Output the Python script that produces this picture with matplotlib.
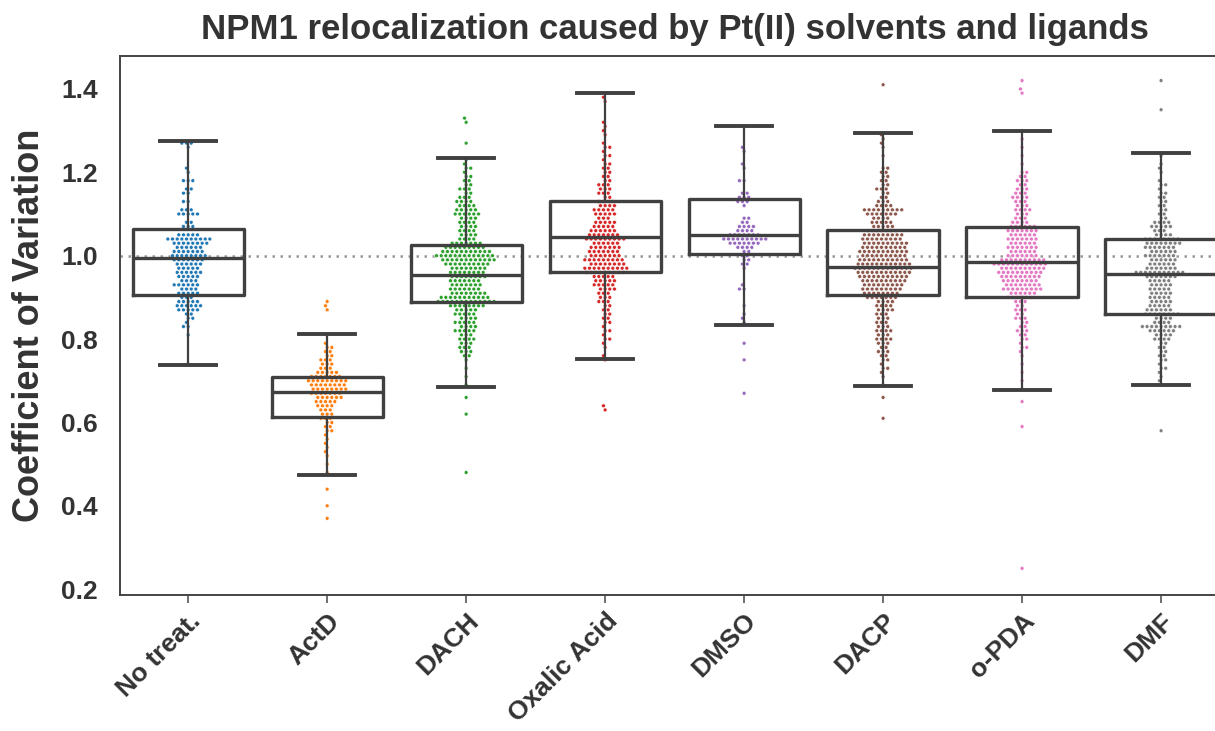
import numpy as np
import pandas as pd
import matplotlib
matplotlib.use("Agg")
import matplotlib.pyplot as plt
import seaborn as sns

groups = ["No treat.", "ActD", "DACH", "Oxalic Acid", "DMSO", "DACP", "o-PDA", "DMF"]
colors = ["#1f77b4", "#ff7f0e", "#2ca02c", "#d62728", "#9467bd", "#8c564b", "#e377c2", "#7f7f7f"]

# box stats
q1 = [0.906, 0.614, 0.888, 0.962, 1.005, 0.906, 0.900, 0.860]
med = [0.995, 0.674, 0.953, 1.044, 1.049, 0.974, 0.984, 0.957]
q3 = [1.064, 0.709, 1.025, 1.131, 1.136, 1.061, 1.069, 1.040]
whislo = [0.737, 0.475, 0.684, 0.751, 0.833, 0.688, 0.679, 0.690]
whishi = [1.274, 0.811, 1.235, 1.390, 1.311, 1.295, 1.300, 1.247]

# swarm points: value levels and how many points sit at each level
notreat_lv = [1.27, 1.26, 1.21, 1.20, 1.18, 1.16, 1.15, 1.13, 1.11, 1.10, 1.08, 1.07, 1.05, 1.04, 1.03,
              1.02, 1.01, 1.00, 0.99, 0.98, 0.97, 0.96, 0.95, 0.94, 0.93, 0.92, 0.91, 0.90, 0.89, 0.88,
              0.87, 0.86, 0.85, 0.84, 0.83, 0.81, 0.74]
notreat_n = [3, 1, 1, 1, 3, 2, 2, 2, 3, 5, 2, 3, 5, 10, 8,
             6, 7, 8, 7, 6, 5, 6, 5, 4, 6, 4, 5, 3, 5, 6,
             5, 2, 2, 1, 2, 1, 1]

actd_lv = [0.89, 0.88, 0.87, 0.81, 0.79, 0.78, 0.77, 0.76, 0.75, 0.74, 0.73, 0.72, 0.71, 0.70, 0.69,
           0.68, 0.67, 0.66, 0.65, 0.64, 0.63, 0.62, 0.61, 0.60, 0.59, 0.58, 0.57, 0.56, 0.55, 0.54,
           0.53, 0.52, 0.50, 0.48, 0.44, 0.40, 0.37]
actd_n = [1, 1, 1, 1, 1, 2, 2, 2, 3, 3, 3, 5, 7, 9, 8,
          8, 7, 6, 5, 4, 3, 3, 3, 2, 2, 2, 1, 1, 1, 1,
          1, 1, 1, 1, 1, 1, 1]

dach_lv = [1.33, 1.32, 1.27, 1.23, 1.22, 1.21, 1.20, 1.19, 1.18, 1.17, 1.16, 1.15, 1.14, 1.13, 1.12,
           1.11, 1.10, 1.09, 1.08, 1.07, 1.06, 1.05, 1.04, 1.03, 1.02, 1.01, 1.00, 0.99, 0.98, 0.97,
           0.96, 0.95, 0.94, 0.93, 0.92, 0.91, 0.90, 0.89, 0.88, 0.87, 0.86, 0.85, 0.84, 0.83, 0.82,
           0.81, 0.80, 0.79, 0.78, 0.77, 0.76, 0.75, 0.73, 0.71, 0.69, 0.66, 0.62, 0.48]
dach_n = [1, 1, 1, 1, 1, 2, 1, 2, 2, 2, 3, 2, 3, 4, 4,
          5, 6, 4, 4, 4, 4, 4, 4, 7, 9, 11, 13, 12, 10, 8,
          8, 8, 7, 7, 7, 8, 11, 13, 8, 5, 5, 4, 5, 4, 5,
          3, 4, 3, 3, 3, 2, 1, 1, 1, 1, 1, 1, 1]

oxal_lv = [1.38, 1.37, 1.32, 1.31, 1.30, 1.29, 1.27, 1.26, 1.25, 1.24, 1.23, 1.22, 1.21, 1.20, 1.19,
           1.18, 1.17, 1.16, 1.15, 1.14, 1.13, 1.12, 1.11, 1.10, 1.09, 1.08, 1.07, 1.06, 1.05, 1.04,
           1.03, 1.02, 1.01, 1.00, 0.99, 0.98, 0.97, 0.96, 0.95, 0.94, 0.93, 0.92, 0.91, 0.90, 0.89,
           0.88, 0.87, 0.86, 0.85, 0.84, 0.83, 0.82, 0.81, 0.80, 0.79, 0.78, 0.76, 0.75, 0.64, 0.63]
oxal_n = [1, 1, 1, 1, 1, 1, 1, 2, 1, 2, 1, 2, 2, 2, 2,
          2, 3, 3, 3, 2, 4, 4, 5, 5, 3, 5, 5, 6, 7, 9,
          6, 7, 7, 7, 9, 8, 10, 9, 5, 5, 5, 4, 3, 3, 3,
          2, 2, 2, 2, 2, 1, 2, 1, 2, 1, 1, 1, 1, 1, 1]

dmso_lv = [1.31, 1.26, 1.25, 1.22, 1.21, 1.18, 1.15, 1.14, 1.13, 1.12, 1.09, 1.08, 1.07, 1.06, 1.05,
           1.04, 1.03, 1.02, 1.01, 1.00, 0.99, 0.98, 0.97, 0.93, 0.92, 0.88, 0.86, 0.85, 0.84, 0.79,
           0.75, 0.67]
dmso_n = [1, 1, 1, 1, 1, 2, 2, 3, 3, 1, 2, 2, 4, 4, 7,
          10, 7, 4, 2, 2, 2, 2, 1, 1, 2, 1, 1, 1, 1, 1,
          1, 1]

dacp_lv = [1.41, 1.29, 1.28, 1.27, 1.26, 1.24, 1.21, 1.20, 1.19, 1.18, 1.17, 1.16, 1.15, 1.14, 1.13,
           1.12, 1.11, 1.10, 1.09, 1.08, 1.07, 1.06, 1.05, 1.04, 1.03, 1.02, 1.01, 1.00, 0.99, 0.98,
           0.97, 0.96, 0.95, 0.94, 0.93, 0.92, 0.91, 0.90, 0.89, 0.88, 0.87, 0.86, 0.85, 0.84, 0.83,
           0.82, 0.81, 0.80, 0.79, 0.78, 0.77, 0.76, 0.75, 0.74, 0.73, 0.72, 0.71, 0.69, 0.66, 0.61]
dacp_n = [1, 1, 1, 1, 1, 1, 2, 2, 2, 2, 2, 3, 2, 2, 3,
          4, 9, 7, 4, 5, 5, 7, 9, 9, 10, 10, 11, 10, 11, 12,
          13, 12, 11, 10, 9, 9, 8, 7, 4, 4, 4, 3, 3, 3, 3,
          4, 3, 4, 3, 2, 3, 2, 2, 1, 2, 1, 1, 1, 1, 1]

opda_lv = [1.42, 1.40, 1.39, 1.30, 1.28, 1.26, 1.24, 1.22, 1.20, 1.19, 1.18, 1.17, 1.16, 1.15, 1.14,
           1.13, 1.12, 1.11, 1.10, 1.09, 1.08, 1.07, 1.06, 1.05, 1.04, 1.03, 1.02, 1.01, 1.00, 0.99,
           0.98, 0.97, 0.96, 0.95, 0.94, 0.93, 0.92, 0.91, 0.90, 0.89, 0.88, 0.87, 0.86, 0.85, 0.84,
           0.83, 0.82, 0.81, 0.80, 0.79, 0.78, 0.77, 0.76, 0.74, 0.72, 0.70, 0.68, 0.65, 0.59, 0.25]
opda_n = [1, 1, 1, 1, 1, 1, 1, 1, 2, 2, 3, 2, 3, 3, 4,
          3, 3, 4, 3, 3, 4, 6, 7, 6, 7, 6, 7, 6, 7, 10,
          12, 10, 10, 9, 8, 8, 9, 6, 6, 3, 2, 3, 2, 3, 2,
          2, 3, 2, 2, 1, 2, 1, 1, 1, 1, 1, 1, 1, 1, 1]

dmf_lv = [1.42, 1.35, 1.24, 1.22, 1.21, 1.20, 1.18, 1.17, 1.16, 1.15, 1.14, 1.13, 1.12, 1.11, 1.10,
          1.09, 1.08, 1.07, 1.06, 1.05, 1.04, 1.03, 1.02, 1.01, 1.00, 0.99, 0.98, 0.97, 0.96, 0.95,
          0.94, 0.93, 0.92, 0.91, 0.90, 0.89, 0.88, 0.87, 0.86, 0.85, 0.84, 0.83, 0.82, 0.81, 0.80,
          0.79, 0.78, 0.77, 0.76, 0.75, 0.74, 0.73, 0.72, 0.71, 0.70, 0.69, 0.58]
dmf_n = [1, 1, 1, 1, 1, 1, 1, 2, 1, 2, 2, 2, 2, 2, 2,
         2, 4, 5, 3, 4, 8, 8, 7, 6, 7, 6, 6, 7, 11, 7,
         5, 5, 5, 5, 5, 5, 5, 6, 8, 4, 4, 9, 6, 4, 4,
         2, 2, 2, 2, 2, 1, 2, 1, 1, 1, 1, 1]

levels = [notreat_lv, actd_lv, dach_lv, oxal_lv, dmso_lv, dacp_lv, opda_lv, dmf_lv]
counts = [notreat_n, actd_n, dach_n, oxal_n, dmso_n, dacp_n, opda_n, dmf_n]

rows = []
for g, lv, n in zip(groups, levels, counts):
    for v in np.repeat(lv, n):
        rows.append((g, v))
df = pd.DataFrame(rows, columns=["group", "cv"])

plt.rcParams['font.family'] = ['Liberation Sans', 'DejaVu Sans']
plt.rcParams['font.weight'] = 'bold'

fig = plt.figure(figsize=(12.15, 7.31), dpi=100)
ax = fig.add_axes([0.0988, 0.186, 0.914, 0.7374])

edge = '#404040'
ax.axhline(1.0, color='#9a9a9a', ls=(0, (1, 2.2)), lw=1.8, zorder=1)

sns.swarmplot(data=df, x="group", y="cv", hue="group", order=groups, hue_order=groups,
              palette=colors, size=2.8, linewidth=0.4, edgecolor='white', legend=False,
              ax=ax, zorder=2)

stats = []
for i, g in enumerate(groups):
    stats.append(dict(label=g, med=med[i], q1=q1[i], q3=q3[i],
                      whislo=whislo[i], whishi=whishi[i], fliers=[]))
bp = ax.bxp(stats, positions=range(len(groups)), widths=0.8, capwidths=0.4,
            showfliers=False, patch_artist=False, manage_ticks=False,
            boxprops=dict(color=edge, lw=2.4),
            medianprops=dict(color=edge, lw=2.4),
            whiskerprops=dict(color=edge, lw=1.6),
            capprops=dict(color=edge, lw=2.8))
for k in bp:
    for a in bp[k]:
        a.set_zorder(3)

ax.set_xlim(-0.49, 7.5)
ax.set_ylim(0.186, 1.479)
ax.set_yticks([0.2, 0.4, 0.6, 0.8, 1.0, 1.2, 1.4])
ax.set_xticks(range(len(groups)))
ax.set_xticklabels(groups, rotation=45, ha='right', rotation_mode='anchor',
                   fontsize=19, fontweight='bold', color='#333333')
ax.tick_params(axis='y', length=0, labelsize=19, labelcolor='#333333', pad=16)
ax.tick_params(axis='x', length=6, width=1.2, color='#555555', pad=4)
for lab in ax.get_yticklabels():
    lab.set_fontweight('bold')
for s in ax.spines.values():
    s.set_color('#444444')
    s.set_linewidth(1.4)

ax.set_xlabel('')
ax.set_ylabel('Coefficient of Variation', fontsize=26, fontweight='bold', color='#333333', labelpad=10)
ax.set_title('NPM1 relocalization caused by Pt(II) solvents and ligands', fontsize=25,
             fontweight='bold', color='#333333', pad=12)

fig.savefig('out.png', dpi=100)
